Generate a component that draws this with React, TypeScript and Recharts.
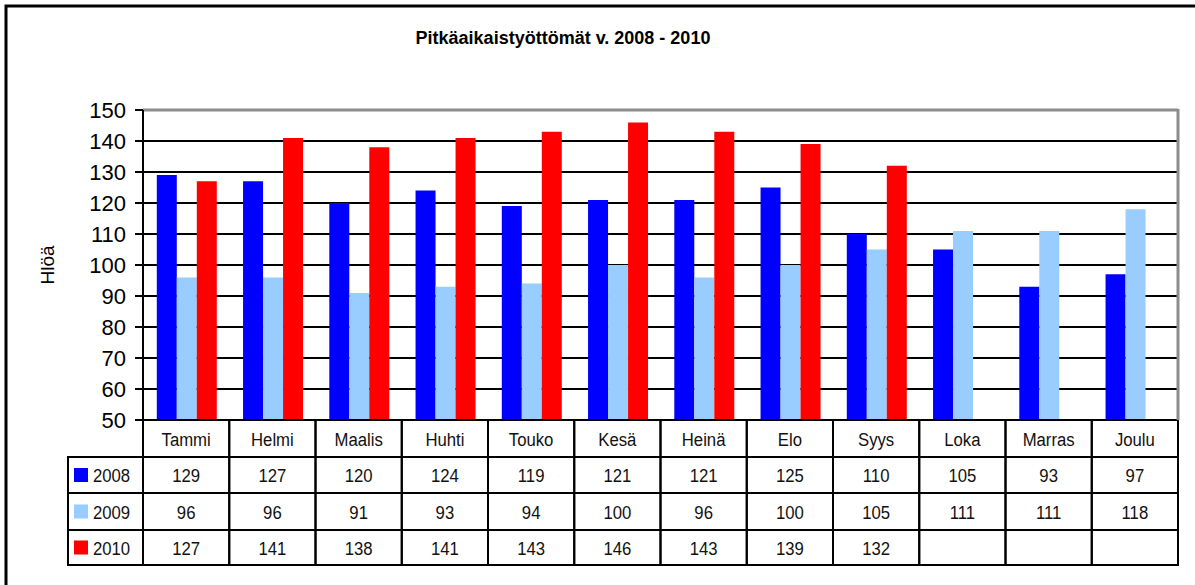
import { Bar, BarChart, CartesianGrid, ReferenceLine, XAxis, YAxis } from 'recharts';

const months = ['Tammi', 'Helmi', 'Maalis', 'Huhti', 'Touko', 'Kesä', 'Heinä', 'Elo', 'Syys', 'Loka', 'Marras', 'Joulu'];
const y2008 = [129, 127, 120, 124, 119, 121, 121, 125, 110, 105, 93, 97];
const y2009 = [96, 96, 91, 93, 94, 100, 96, 100, 105, 111, 111, 118];
const y2010 = [127, 141, 138, 141, 143, 146, 143, 139, 132, null, null, null];
const yTicks = [50, 60, 70, 80, 90, 100, 110, 120, 130, 140, 150];

const seriesList = [
  { key: 'v2008', label: '2008', color: '#0000ff', values: y2008 },
  { key: 'v2009', label: '2009', color: '#99ccff', values: y2009 },
  { key: 'v2010', label: '2010', color: '#ff0000', values: y2010 },
];

const data = months.map((name, i) => ({
  name,
  v2008: y2008[i],
  v2009: y2009[i],
  v2010: y2010[i],
}));

const W = 1195;
const H = 585;
const PLOT_LEFT = 143;
const PLOT_RIGHT = 1178;
const PLOT_TOP = 110;
const PLOT_BOTTOM = 420;
const COL_W = (PLOT_RIGHT - PLOT_LEFT) / months.length;
const ROWS = [420, 457, 493, 530, 565];
const LEGEND_LEFT = 68;
const arial = '"Liberation Sans", Arial, sans-serif';

// Arial Narrow look-alike: regular Arial squeezed horizontally
function NarrowText({ x, y, anchor = 'start', children }: any) {
  return (
    <text
      transform={`translate(${x} ${y}) scale(0.88 1)`}
      textAnchor={anchor}
      fontSize={19}
      fontFamily={arial}
      fill="#111"
    >
      {children}
    </text>
  );
}

function TableColumn(props: any) {
  const { x, payload, index } = props;
  const left = x - COL_W / 2;
  const i = months.indexOf(payload.value);
  const cells = [payload.value, ...seriesList.map((s) => s.values[i])];
  return (
    <g>
      {cells.map((c, r) => (
        <g key={r}>
          <rect
            x={left}
            y={ROWS[r]}
            width={COL_W}
            height={ROWS[r + 1] - ROWS[r]}
            fill="none"
            stroke="#000"
            strokeWidth={2}
          />
          {c != null && (
            <NarrowText x={x} y={(ROWS[r] + ROWS[r + 1]) / 2 + 7} anchor="middle">
              {c}
            </NarrowText>
          )}
        </g>
      ))}
      {index === 0 &&
        seriesList.map((s, r) => (
          <g key={s.key}>
            <rect
              x={LEGEND_LEFT}
              y={ROWS[r + 1]}
              width={PLOT_LEFT - LEGEND_LEFT}
              height={ROWS[r + 2] - ROWS[r + 1]}
              fill="none"
              stroke="#000"
              strokeWidth={2}
            />
            <rect x={74} y={(ROWS[r + 1] + ROWS[r + 2]) / 2 - 7} width={14} height={14} fill={s.color} />
            <NarrowText x={93} y={(ROWS[r + 1] + ROWS[r + 2]) / 2 + 7}>
              {s.label}
            </NarrowText>
          </g>
        ))}
    </g>
  );
}

export default function App() {
  return (
    <div style={{ position: 'absolute', left: 0, top: 0, width: W, height: H, background: '#fff' }}>
      <BarChart
        width={W}
        height={H}
        data={data}
        margin={{ top: PLOT_TOP, right: W - PLOT_RIGHT, bottom: H - PLOT_BOTTOM - 30, left: PLOT_LEFT - 60 }}
        barCategoryGap="16%"
        barGap={0}
      >
        <CartesianGrid vertical={false} stroke="#000" strokeWidth={2} />
        <XAxis
          dataKey="name"
          height={30}
          axisLine={false}
          tickLine={false}
          tickSize={0}
          interval={0}
          tick={<TableColumn />}
        />
        <YAxis
          domain={[50, 150]}
          ticks={yTicks}
          width={60}
          interval={0}
          axisLine={{ stroke: '#000', strokeWidth: 2 }}
          tickLine={{ stroke: '#000', strokeWidth: 2 }}
          tickSize={8}
          tickMargin={9}
          tick={{ fill: '#000', fontSize: 22, fontFamily: arial }}
        />
        <ReferenceLine y={150} stroke="#8c8c8c" strokeWidth={3} />
        {seriesList.map((s) => (
          <Bar key={s.key} dataKey={s.key} fill={s.color} isAnimationActive={false} />
        ))}
      </BarChart>
      <svg
        width={W}
        height={H}
        style={{ position: 'absolute', left: 0, top: 0, pointerEvents: 'none' }}
      >
        <rect x={6} y={6} width={W + 10} height={H + 10} fill="none" stroke="#000" strokeWidth={3} />
        <line x1={PLOT_RIGHT} y1={PLOT_TOP - 1} x2={PLOT_RIGHT} y2={PLOT_BOTTOM} stroke="#8c8c8c" strokeWidth={3} />
        <text
          x={563}
          y={44}
          textAnchor="middle"
          fontSize={18}
          fontWeight="bold"
          fontFamily={arial}
          fill="#000"
        >
          Pitkäaikaistyöttömät v. 2008 - 2010
        </text>
        <text
          x={54}
          y={265}
          textAnchor="middle"
          fontSize={19}
          fontFamily={arial}
          fill="#000"
          transform="rotate(-90 54 265)"
        >
          Hlöä
        </text>
      </svg>
    </div>
  );
}
